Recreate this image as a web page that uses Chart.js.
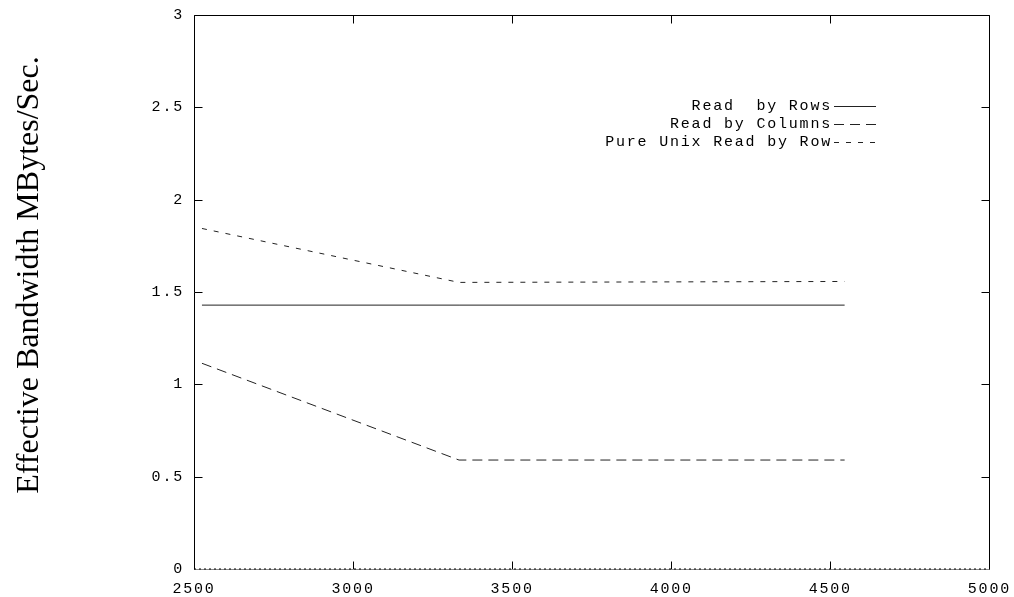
<!DOCTYPE html>
<html>
<head>
<meta charset="utf-8">
<script src="https://cdn.jsdelivr.net/npm/chart.js@4.4.1/dist/chart.umd.min.js"></script>
<style>
  html, body { margin: 0; padding: 0; background: #fff; }
  #wrap { width: 1014px; height: 597px; }
</style>
</head>
<body>
<div id="wrap"><canvas id="bwChart"></canvas></div>
<script>
// data
const xValues = [2525, 3333, 4545];
const readByRows = [1.429, 1.429, 1.429];
const readByColumns = [1.114, 0.590, 0.590];
const pureUnixByRow = [1.844, 1.552, 1.557];
const zeroX = [2500, 5000];
const zeroY = [0, 0];
const xTicks = [2500, 3000, 3500, 4000, 4500, 5000];
const yTicks = [0, 0.5, 1, 1.5, 2, 2.5, 3];
const seriesNames = ['Read  by Rows', 'Read by Columns', 'Pure Unix Read by Row'];

const monoFont = { family: 'Liberation Mono, Courier New, monospace', size: 15 };
const spacing = '1.8px';

function pts(xs, ys) {
  return xs.map((x, i) => ({ x: x, y: ys[i] }));
}

// gnuplot style box, inward ticks and key
const framePlugin = {
  id: 'frame',
  beforeLayout(chart) { chart.ctx.letterSpacing = spacing; },
  afterLayout(chart) {
    // axis title is drawn without the wide mono spacing, a bit above centre
    const s = chart.scales.y;
    if (s && !s._titlePatched) {
      const orig = s.drawTitle;
      s.drawTitle = function () {
        const c = this.ctx;
        c.save();
        c.letterSpacing = '0px';
        c.translate(0, -17);
        orig.apply(this, arguments);
        c.restore();
      };
      s._titlePatched = true;
    }
  },
  beforeDraw(chart) { chart.ctx.letterSpacing = spacing; },
  beforeDatasetsDraw(chart) {
    const { ctx, chartArea: a, scales: { x, y } } = chart;
    const l = Math.round(a.left) + 0.5, r = Math.round(a.right) + 0.5;
    const t = Math.round(a.top) + 0.5, b = Math.round(a.bottom) + 0.5;
    ctx.save();
    ctx.lineWidth = 1;
    ctx.strokeStyle = '#000';
    ctx.beginPath();
    ctx.moveTo(l, b); ctx.lineTo(l, t); ctx.lineTo(r, t); ctx.lineTo(r, b);
    xTicks.forEach(v => {
      const px = Math.round(x.getPixelForValue(v)) + 0.5;
      ctx.moveTo(px, b); ctx.lineTo(px, b - 8);
      ctx.moveTo(px, t); ctx.lineTo(px, t + 8);
    });
    yTicks.forEach(v => {
      const py = Math.round(y.getPixelForValue(v)) + 0.5;
      ctx.moveTo(l, py); ctx.lineTo(l + 8, py);
      ctx.moveTo(r, py); ctx.lineTo(r - 8, py);
    });
    ctx.stroke();
    ctx.strokeStyle = '#888';
    ctx.beginPath();
    ctx.moveTo(l, b); ctx.lineTo(r, b);
    ctx.stroke();
    ctx.restore();
  },
  afterDatasetsDraw(chart) {
    const { ctx } = chart;
    const textRight = 832, lineStart = 834, lineEnd = 876;
    const rows = [106, 124, 142];
    ctx.save();
    ctx.letterSpacing = spacing;
    ctx.font = monoFont.size + 'px ' + monoFont.family;
    ctx.fillStyle = '#000';
    ctx.textAlign = 'right';
    ctx.textBaseline = 'middle';
    seriesNames.forEach((name, i) => {
      const ds = chart.data.datasets[i];
      ctx.fillText(name, textRight, rows[i]);
      ctx.strokeStyle = ds.borderColor;
      ctx.lineWidth = ds.borderWidth;
      ctx.setLineDash(ds.borderDash || []);
      ctx.beginPath();
      ctx.moveTo(lineStart, rows[i] + 0.5);
      ctx.lineTo(lineEnd, rows[i] + 0.5);
      ctx.stroke();
    });
    ctx.restore();
  }
};

const ctx = document.getElementById('bwChart').getContext('2d');
const bwChart = new Chart(ctx, {
  type: 'line',
  data: {
    datasets: [
      { label: seriesNames[0], data: pts(xValues, readByRows), borderColor: '#222', borderWidth: 1, borderDash: [] },
      { label: seriesNames[1], data: pts(xValues, readByColumns), borderColor: '#222', borderWidth: 1, borderDash: [10, 6] },
      { label: seriesNames[2], data: pts(xValues, pureUnixByRow), borderColor: '#222', borderWidth: 1, borderDash: [5, 7] },
      { label: 'zero', data: pts(zeroX, zeroY), borderColor: '#000', borderWidth: 1, borderDash: [2, 3], clip: false }
    ]
  },
  options: {
    responsive: true,
    maintainAspectRatio: false,
    animation: false,
    layout: { padding: { top: 15, right: 19, left: 0, bottom: 0 } },
    elements: { point: { radius: 0, hoverRadius: 0 }, line: { tension: 0 } },
    plugins: { legend: { display: false }, tooltip: { enabled: false } },
    scales: {
      x: {
        type: 'linear',
        min: 2500,
        max: 5000,
        afterBuildTicks: s => { s.ticks = xTicks.map(v => ({ value: v })); },
        afterFit: s => { s.height = 28; },
        grid: { display: false },
        border: { display: false },
        ticks: { color: '#000', font: monoFont, padding: 3, maxRotation: 0, callback: v => String(v) }
      },
      y: {
        min: 0,
        max: 3,
        afterBuildTicks: s => { s.ticks = yTicks.map(v => ({ value: v })); },
        afterFit: s => { s.width = 194; s.paddingTop = 0; s.paddingBottom = 0; },
        grid: { display: false },
        border: { display: false },
        ticks: { color: '#000', font: monoFont, padding: 2, callback: v => String(v) },
        title: {
          display: true,
          text: 'Effective Bandwidth MBytes/Sec.',
          color: '#000',
          font: { family: 'Liberation Serif, Times New Roman, serif', size: 32 },
          padding: { top: 10, bottom: 0 }
        }
      }
    }
  },
  plugins: [framePlugin]
});
</script>
</body>
</html>
